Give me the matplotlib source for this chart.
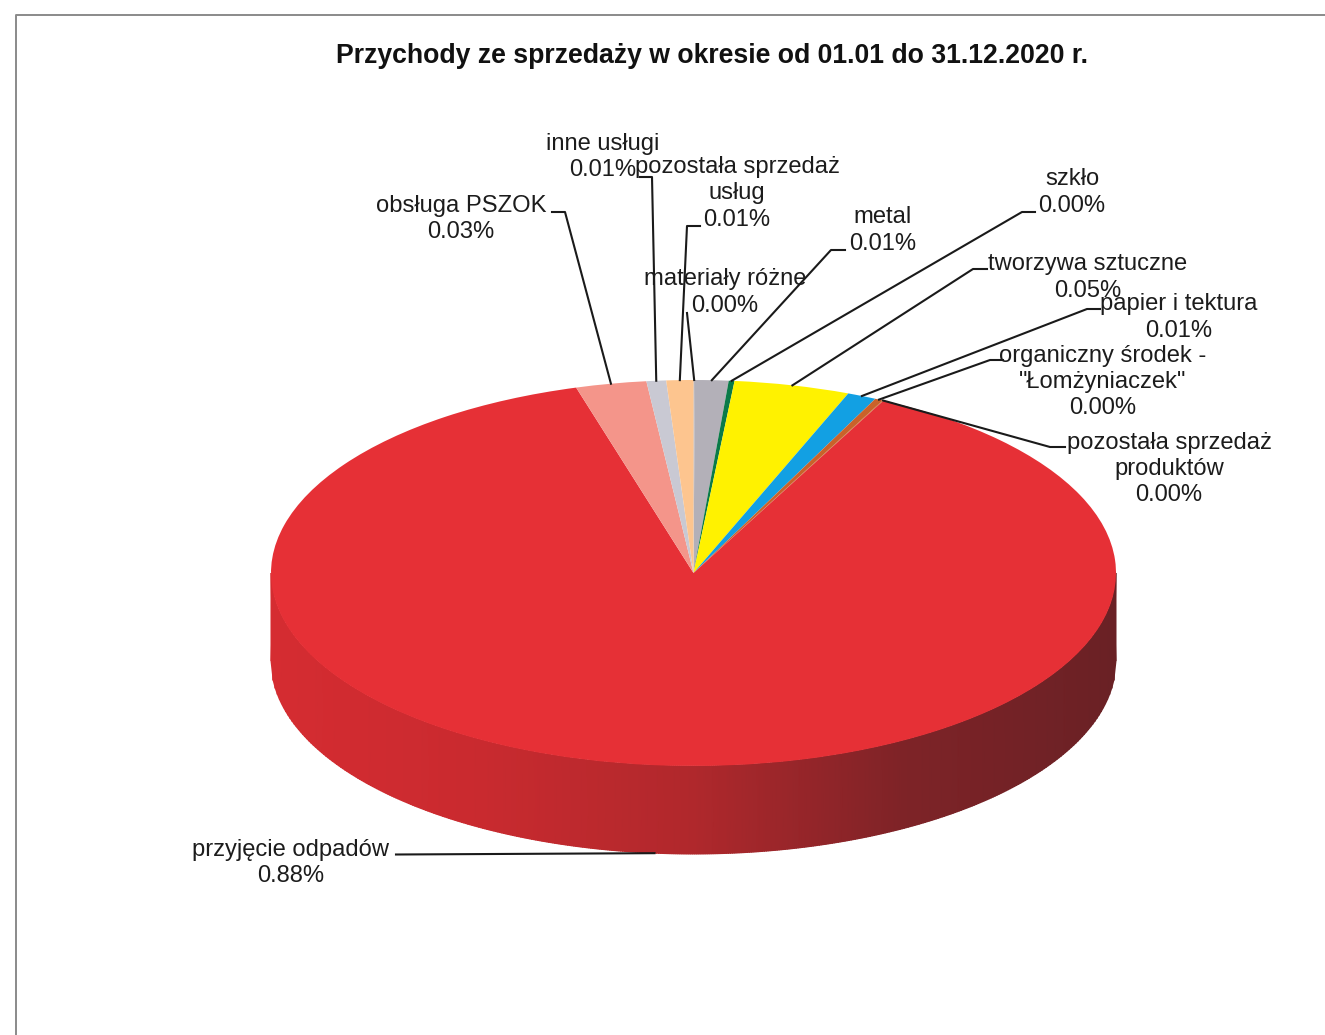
import numpy as np
import matplotlib
matplotlib.use("Agg")
import matplotlib.pyplot as plt
from matplotlib.colors import LinearSegmentedColormap

plt.rcParams["font.family"] = ["Liberation Sans", "DejaVu Sans"]

# Slices, clockwise from 12 o'clock (share of the pie)
names = ["materiały różne", "metal", "szkło", "tworzywa sztuczne", "papier i tektura",
         "organiczny środek -\n\"Łomżyniaczek\"", "pozostała sprzedaż\nproduktów",
         "przyjęcie odpadów", "obsługa PSZOK", "inne usługi", "pozostała sprzedaż\nusług"]
shares = [0.05, 1.28, 0.22, 4.42, 1.11, 0.31, 0.03, 88.10, 2.70, 0.75, 1.03]
printed = ["0.00%", "0.01%", "0.00%", "0.05%", "0.01%", "0.00%", "0.00%",
           "0.88%", "0.03%", "0.01%", "0.01%"]
colors = ["#a9a7b0", "#b3b0b8", "#0a7a48", "#fff200", "#12a0e3", "#c9622a", "#c07020",
          "#e63036", "#f4958a", "#c9c9d3", "#fdc58f"]

# Layout in picture pixels
W, H = 1325, 1035
cx, cy, rx, ry, depth = 693.5, 573, 422.5, 193, 88
label_pos = [(725, 292.5), (883, 230.5), (1072, 192.5), (1088, 277.5), (1179, 317.5),
             (1103, 382), (1169, 469), (291, 863), (461, 219), (603, 157), (737, 193.5)]
elbows = [[(687, 313)],
          [(845, 250), (831, 250)],
          [(1035, 212), (1022, 212)],
          [(987, 269), (973, 269)],
          [(1100, 309), (1087, 309)],
          [(1003, 360), (990, 360)],
          [(1065, 447), (1050, 447)],
          [(396, 854.5)],
          [(552, 212), (565, 212)],
          [(640, 177), (652, 177)],
          [(700, 226), (687, 226)]]

fig = plt.figure(figsize=(W / 100, H / 100), dpi=100, facecolor="white")

# Pie axes: radius 1 becomes the flattened ellipse of the top face
ax = fig.add_axes([0, 0, 1, 1])
ax.pie(shares, colors=colors, startangle=90, counterclock=False, radius=1,
       wedgeprops={"linewidth": 0}, frame=False)
ax.set_aspect("auto")
ax.set_xlim(-cx / rx, (W - cx) / rx)
ax.set_ylim((cy - H) / ry, cy / ry)
ax.axis("off")

# Side wall of the disc, dark towards the right
wall = LinearSegmentedColormap.from_list(
    "wall", ["#d52c31", "#c92a2f", "#b0282c", "#7e2327", "#6a2125"])
xs = np.linspace(-1, 1, 400)
rim = -np.sqrt(1 - xs ** 2)
X = np.vstack([xs, xs])
Y = np.vstack([rim, rim - depth / ry])
ax.pcolormesh(X, Y, np.vstack([xs, xs]), cmap=wall, shading="gouraud", zorder=0)

# Overlay in pixels for the labels, leaders and the scanned frame
ov = fig.add_axes([0, 0, 1, 1], facecolor="none")
ov.set_xlim(0, W)
ov.set_ylim(H, 0)
ov.axis("off")

ov.plot([16, 16, W], [H, 15, 15], color="#8a8a8a", lw=1.4)
ov.text(712, 56, "Przychody ze sprzedaży w okresie od 01.01 do 31.12.2020 r.",
        ha="center", va="center", fontsize=19.2, fontweight="bold", color="#111111")

edges = np.cumsum([0] + shares) / sum(shares) * 2 * np.pi
for i, name in enumerate(names):
    mid = (edges[i] + edges[i + 1]) / 2
    px = cx + rx * np.sin(mid)
    py = cy - ry * np.cos(mid)
    if np.cos(mid) < 0:
        py += depth
    pts = elbows[i] + [(px, py)]
    ov.plot([p[0] for p in pts], [p[1] for p in pts], color="#1a1a1a", lw=1.5,
            solid_joinstyle="round")
    ov.text(label_pos[i][0], label_pos[i][1], name + "\n" + printed[i], ha="center",
            va="center", fontsize=17.1, color="#1c1c1c", linespacing=1.25)

fig.savefig("out.png", dpi=100)
